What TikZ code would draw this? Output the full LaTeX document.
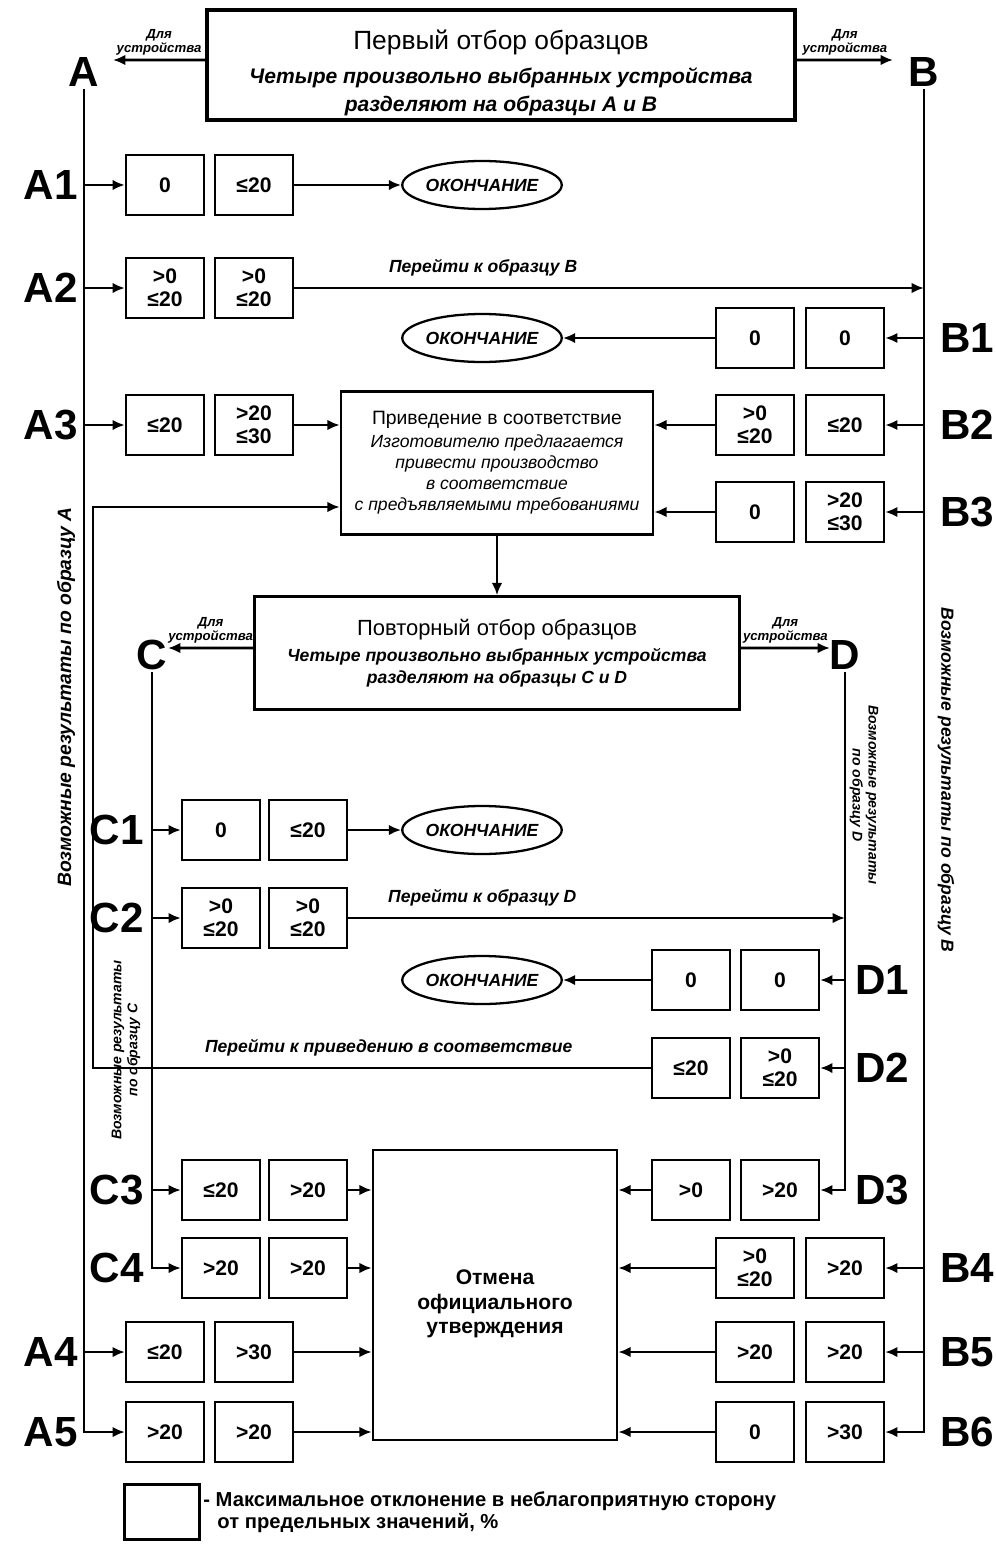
\documentclass[tikz,border=0pt]{standalone}
\usepackage{fontspec}
\setmainfont{Liberation Sans}
\usetikzlibrary{shapes.geometric,arrows.meta}
\begin{document}
\begin{tikzpicture}  % ------ Schema des prelevements A, B, C, D ------------------
      [x=0.02cm,y=-0.02cm,
       val/.style={draw,line width=1.3pt,minimum width=1.56cm,minimum height=1.2cm,inner sep=1pt,
                   align=center,font=\fontsize{12}{13}\selectfont\bfseries},
       bigbox/.style={draw,line width=1.5pt,align=center},
       fin/.style={draw,ellipse,line width=1.3pt,minimum width=2.7cm,minimum height=0.96cm,
                   inner sep=0pt,font=\fontsize{10}{12}\selectfont\bfseries\itshape},
       lbl/.style={font=\fontsize{24}{26}\selectfont\bfseries,inner sep=1pt},
       note/.style={font=\fontsize{10}{12}\selectfont\bfseries\itshape,inner sep=2pt},
       dev/.style={font=\fontsize{7.5}{8}\selectfont\bfseries\itshape,align=center,inner sep=1pt},
       arr/.style={line width=1.5pt,-{Latex[length=7pt,width=6pt]}}]
    \useasboundingbox (0,0) rectangle (995,1544);
    % premier prelevement
    \node[bigbox,line width=2.2pt,minimum width=11.76cm,minimum height=2.2cm] (first) at (501,65) {};
    \node[align=center] (firsttext) at (501,73)
        {{\fontsize{15}{17}\selectfont\mdseries Первый отбор образцов}\\[6pt]
         {\fontsize{12}{14}\selectfont\bfseries\itshape Четыре произвольно выбранных устройства}\\[4pt]
         {\fontsize{12}{14}\selectfont\bfseries\itshape разделяют на образцы A и B}};
    \node[lbl] (A) at (84,72) {A};
    \node[lbl] (B) at (924,72) {B};
    \coordinate (aend) at (113,60);
    \coordinate (bend) at (893,60);
    \draw[arr] ([yshift=0.1cm]first.west) -- node[dev,above=1pt] (devA) {Для\\устройства} (aend);
    \draw[arr] ([yshift=0.1cm]first.east) -- node[dev,above=1pt] (devB) {Для\\устройства} (bend);
    \node[note,rotate=90,font=\fontsize{11}{13}\selectfont\bfseries\itshape] (resA) at (66,697)
        {Возможные результаты по образцу A};
    \node[note,rotate=-90] (resB) at (946,780) {Возможные результаты по образцу B};
    % lignes A
    \node[lbl,anchor=east] (A1) at (80,185) {A1};
    \node[val] (a1a) at (165,185) {0};
    \node[val] (a1b) at (254,185) {≤20};
    \node[fin] (endA1) at (482,185) {ОКОНЧАНИЕ};
    \draw[arr] (A.south |- a1a) -- (a1a);
    \draw[arr] (a1b) -- (endA1);
    \node[lbl,anchor=east] (A2) at (80,288) {A2};
    \node[val] (a2a) at (165,288) {>0\\≤20};
    \node[val] (a2b) at (254,288) {>0\\≤20};
    \draw[arr] (A.south |- a2a) -- (a2a);
    \draw[arr] (a2b) -- node[note,pos=0.3,above=4pt] (toB) {Перейти к образцу B} (B.south |- a2b);
    \node[lbl,anchor=east] (A3) at (80,425) {A3};
    \node[val] (a3a) at (165,425) {≤20};
    \node[val] (a3b) at (254,425) {>20\\≤30};
    \draw[arr] (A.south |- a3a) -- (a3a);
    % lignes B
    \node[lbl,anchor=west] (B1) at (938,338) {B1};
    \node[val] (b1a) at (755,338) {0};
    \node[val] (b1b) at (845,338) {0};
    \node[fin] (endB1) at (482,338) {ОКОНЧАНИЕ};
    \draw[arr] (B.south |- b1b) -- (b1b);
    \draw[arr] (b1a) -- (endB1);
    \node[lbl,anchor=west] (B2) at (938,425) {B2};
    \node[val] (b2a) at (755,425) {>0\\≤20};
    \node[val] (b2b) at (845,425) {≤20};
    \node[lbl,anchor=west] (B3) at (938,512) {B3};
    \node[val] (b3a) at (755,512) {0};
    \node[val] (b3b) at (845,512) {>20\\≤30};
    \draw[arr] (B.south |- b2b) -- (b2b);
    \draw[arr] (B.south |- b3b) -- (b3b);
    % mise en conformite
    \node[bigbox,minimum width=6.24cm,minimum height=2.86cm] (adjust) at (497,463)
        {{\fontsize{11}{14}\selectfont Приведение в соответствие}\\[1pt]
         {\fontsize{10}{11.5}\selectfont\itshape Изготовителю предлагается}\\
         {\fontsize{10}{11.5}\selectfont\itshape привести производство}\\
         {\fontsize{10}{11.5}\selectfont\itshape в соответствие}\\
         {\fontsize{10}{11.5}\selectfont\itshape с предъявляемыми требованиями}};
    \draw[arr] (a3b) -- (adjust.west |- a3b);
    \draw[arr] (b2a) -- (adjust.east |- b2a);
    \draw[arr] (b3a) -- (adjust.east |- b3a);
    % second prelevement
    \node[bigbox,minimum width=9.7cm,minimum height=2.26cm] (second) at (497,653)
        {{\fontsize{12.5}{15}\selectfont\mdseries Повторный отбор образцов}\\[3pt]
         {\fontsize{10}{12}\selectfont\bfseries\itshape Четыре произвольно выбранных устройства}\\
         {\fontsize{10}{12}\selectfont\bfseries\itshape разделяют на образцы C и D}};
    \draw[arr] (adjust.south) -- (second.north);
    \node[lbl] (C) at (152,655) {C};
    \node[lbl] (D) at (845,655) {D};
    \coordinate (cend) at (168,648);
    \coordinate (dend) at (830,648);
    \draw[arr] ([yshift=0.1cm]second.west) -- node[dev,above=1pt] (devC) {Для\\устройства} (cend);
    \draw[arr] ([yshift=0.1cm]second.east) -- node[dev,above=1pt] (devD) {Для\\устройства} (dend);
    \node[dev,rotate=90,font=\fontsize{8}{9}\selectfont\bfseries\itshape] (resC) at (126,1050)
        {Возможные результаты\\по образцу C};
    \node[dev,rotate=-90,font=\fontsize{8}{9}\selectfont\bfseries\itshape] (resD) at (864,795)
        {Возможные результаты\\по образцу D};
    % lignes C et D
    \node[lbl,anchor=east] (C1) at (146,830) {C1};
    \node[val] (c1a) at (221,830) {0};
    \node[val] (c1b) at (308,830) {≤20};
    \node[fin] (endC1) at (482,830) {ОКОНЧАНИЕ};
    \draw[arr] (C.south |- c1a) -- (c1a);
    \draw[arr] (c1b) -- (endC1);
    \node[lbl,anchor=east] (C2) at (146,918) {C2};
    \node[val] (c2a) at (221,918) {>0\\≤20};
    \node[val] (c2b) at (308,918) {>0\\≤20};
    \draw[arr] (C.south |- c2a) -- (c2a);
    \draw[arr] (c2b) -- node[note,pos=0.27,above=4pt] (toD) {Перейти к образцу D} (D.south |- c2b);
    \node[lbl,anchor=west] (D1) at (853,980) {D1};
    \node[val] (d1a) at (691,980) {0};
    \node[val] (d1b) at (780,980) {0};
    \node[fin] (endD1) at (482,980) {ОКОНЧАНИЕ};
    \draw[arr] (D.south |- d1b) -- (d1b);
    \draw[arr] (d1a) -- (endD1);
    \node[lbl,anchor=west] (D2) at (853,1068) {D2};
    \node[val] (d2a) at (691,1068) {≤20};
    \node[val] (d2b) at (780,1068) {>0\\≤20};
    \draw[arr] (D.south |- d2b) -- (d2b);
    \coordinate (back) at (93,507);
    \draw[arr] (d2a) -- node[note,pos=0.47,above=4pt] (toAdj) {Перейти к приведению в соответствие}
        (back |- d2a) -- (back) -- (adjust.west |- back);
    % retrait de l'homologation
    \node[bigbox,minimum width=4.88cm,minimum height=5.8cm] (cancel) at (495,1295) {};
    \node[font=\fontsize{12}{14}\selectfont\bfseries,align=center] (canceltext) at (495,1304)
        {Отмена\\официального\\утверждения};
    \node[lbl,anchor=east] (C3) at (146,1190) {C3};
    \node[val] (c3a) at (221,1190) {≤20};
    \node[val] (c3b) at (308,1190) {>20};
    \node[lbl,anchor=east] (C4) at (146,1268) {C4};
    \node[val] (c4a) at (221,1268) {>20};
    \node[val] (c4b) at (308,1268) {>20};
    \draw[arr] (C.south |- c3a) -- (c3a);
    \draw[arr] (C.south) |- (c4a);
    \node[lbl,anchor=west] (D3) at (853,1190) {D3};
    \node[val] (d3a) at (691,1190) {>0};
    \node[val] (d3b) at (780,1190) {>20};
    \draw[arr] (D.south) |- (d3b);
    \node[lbl,anchor=east] (A4) at (80,1352) {A4};
    \node[val] (a4a) at (165,1352) {≤20};
    \node[val] (a4b) at (254,1352) {>30};
    \node[lbl,anchor=east] (A5) at (80,1432) {A5};
    \node[val] (a5a) at (165,1432) {>20};
    \node[val] (a5b) at (254,1432) {>20};
    \draw[arr] (A.south |- a4a) -- (a4a);
    \draw[arr] (A.south) |- (a5a);
    \node[lbl,anchor=west] (B4) at (938,1268) {B4};
    \node[val] (b4a) at (755,1268) {>0\\≤20};
    \node[val] (b4b) at (845,1268) {>20};
    \node[lbl,anchor=west] (B5) at (938,1352) {B5};
    \node[val] (b5a) at (755,1352) {>20};
    \node[val] (b5b) at (845,1352) {>20};
    \node[lbl,anchor=west] (B6) at (938,1432) {B6};
    \node[val] (b6a) at (755,1432) {0};
    \node[val] (b6b) at (845,1432) {>30};
    \draw[arr] (B.south |- b4b) -- (b4b);
    \draw[arr] (B.south |- b5b) -- (b5b);
    \draw[arr] (B.south) |- (b6b);
    \draw[arr] (c3b) -- (cancel.west |- c3b);
    \draw[arr] (c4b) -- (cancel.west |- c4b);
    \draw[arr] (a4b) -- (cancel.west |- a4b);
    \draw[arr] (a5b) -- (cancel.west |- a5b);
    \draw[arr] (d3a) -- (cancel.east |- d3a);
    \draw[arr] (b4a) -- (cancel.east |- b4a);
    \draw[arr] (b5a) -- (cancel.east |- b5a);
    \draw[arr] (b6a) -- (cancel.east |- b6a);
    % legende
    \node[draw,line width=1.3pt,minimum width=1.5cm,minimum height=1.1cm] (key) at (162,1512) {};
    \node[anchor=north west,align=left,inner sep=0pt,font=\fontsize{11.5}{12.5}\selectfont\bfseries]
        (keytext) at (203,1491) {- Максимальное отклонение в неблагоприятную сторону\\
        \hspace{0.7em}от предельных значений, \%};
\end{tikzpicture}
\end{document}
